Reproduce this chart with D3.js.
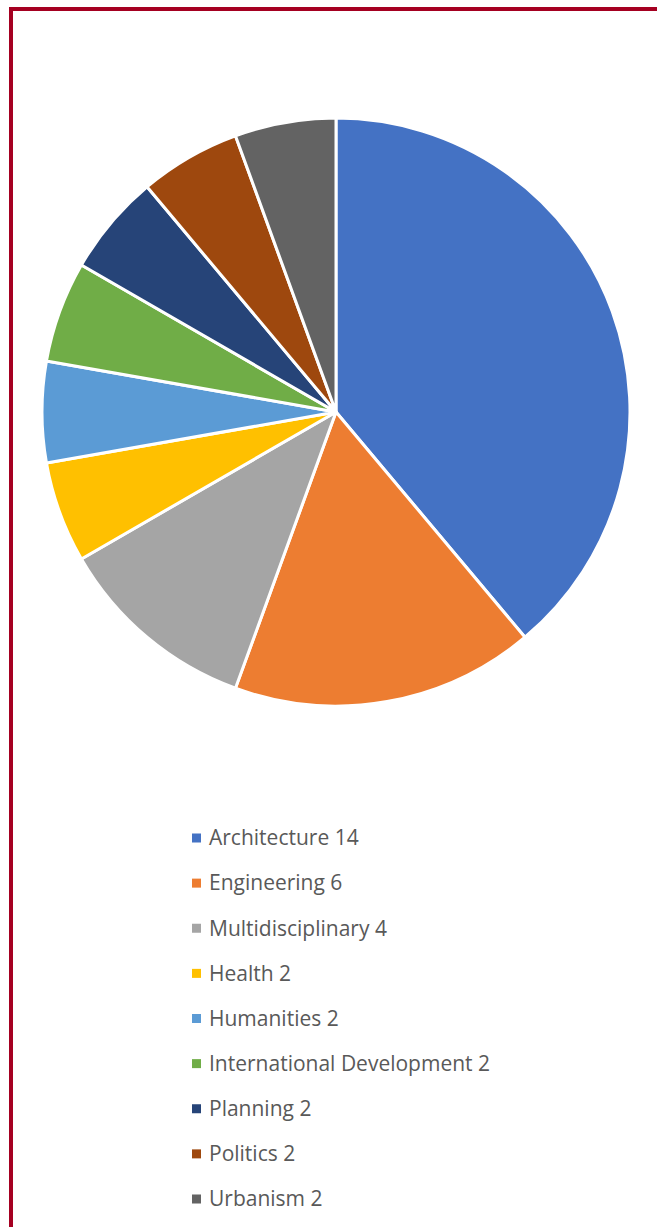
<!DOCTYPE html>
<html>
<head>
<meta charset="utf-8">
<script src="https://cdn.jsdelivr.net/npm/d3@7"></script>
<style>
  body { margin: 0; background: #fff; }
  svg { display: block; }
</style>
</head>
<body>
<svg id="chart" width="657" height="1227"></svg>
<script>
const categories = ["Architecture", "Engineering", "Multidisciplinary", "Health", "Humanities",
    "International Development", "Planning", "Politics", "Urbanism"];
const counts = [14, 6, 4, 2, 2, 2, 2, 2, 2];
const colors = ["#4472c4", "#ed7d31", "#a5a5a5", "#ffc000", "#5b9bd5",
    "#70ad47", "#264478", "#9e480e", "#636363"];

const data = categories.map((c, i) => ({ name: c, value: counts[i], color: colors[i] }));

const svg = d3.select("#chart");
const W = 657, H = 1227;

// frame border, runs off the right and bottom edges
svg.append("rect")
    .attr("x", 11)
    .attr("y", 9)
    .attr("width", W)
    .attr("height", H)
    .attr("fill", "none")
    .attr("stroke", "#a50021")
    .attr("stroke-width", 4);

const cx = 336, cy = 412, radius = 294;

const pie = d3.pie()
    .value(d => d.value)
    .sort(null);

const arc = d3.arc()
    .innerRadius(0)
    .outerRadius(radius);

const g = svg.append("g")
    .attr("transform", `translate(${cx},${cy})`);

g.selectAll("path")
    .data(pie(data))
    .enter()
    .append("path")
    .attr("d", arc)
    .attr("fill", d => d.data.color)
    .attr("stroke", "#fff")
    .attr("stroke-width", 3)
    .attr("stroke-linejoin", "round");

// legend
const legendY = d3.scalePoint()
    .domain(categories)
    .range([838, 1199]);

const legend = svg.append("g");

const items = legend.selectAll(".item")
    .data(data)
    .enter()
    .append("g")
    .attr("class", "item")
    .attr("transform", d => `translate(192,${legendY(d.name)})`);

items.append("rect")
    .attr("x", 0)
    .attr("y", -4.5)
    .attr("width", 9)
    .attr("height", 9)
    .attr("fill", d => d.color);

items.append("text")
    .attr("x", 17)
    .attr("y", 0)
    .attr("dy", "0.35em")
    .style("font-family", "'Open Sans', 'Noto Sans', sans-serif")
    .style("font-size", "21px")
    .style("fill", "#595959")
    .text(d => `${d.name} ${d.value}`);
</script>
</body>
</html>
